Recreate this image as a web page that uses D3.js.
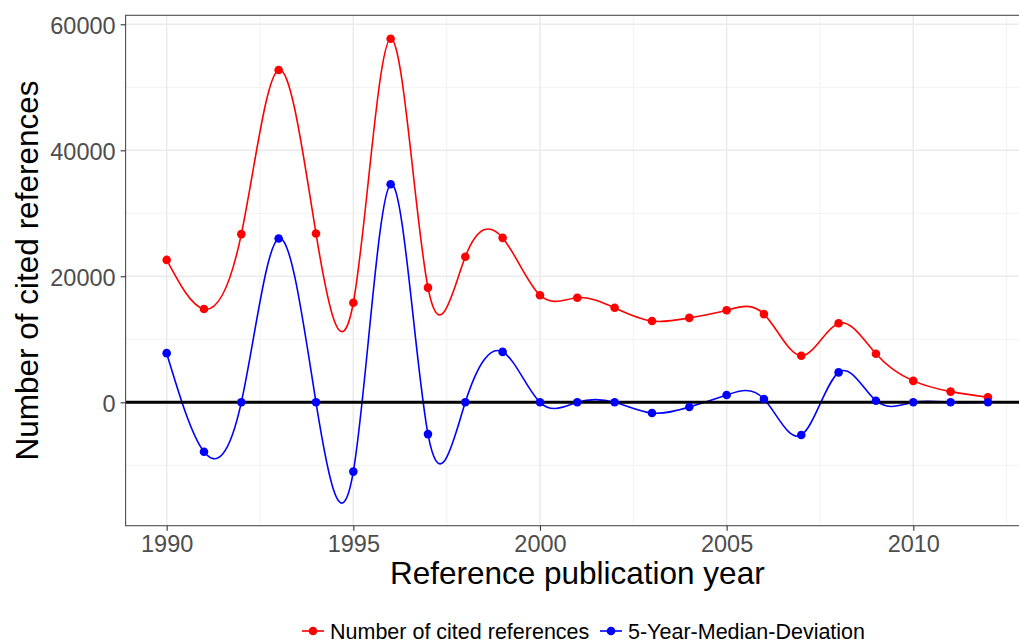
<!DOCTYPE html>
<html>
<head>
<meta charset="utf-8">
<script src="https://cdn.jsdelivr.net/npm/d3@7"></script>
<style>
  body { margin: 0; background: #fff; }
  svg { display: block; font-family: "Liberation Sans", Arial, sans-serif; }
</style>
</head>
<body>
<div id="chart"></div>
<script>
// cited references per publication year, and deviation from 5-year median
const years = d3.range(1990, 2013);
const citedRefs = [22600, 14800, 26700, 52750, 26800, 15800, 57700, 18200, 23100, 26100,
  17000, 16600, 15000, 12900, 13400, 14600, 14000, 7400, 12550, 7700, 3400, 1700, 800];
const medianDev = [7800, -7850, 0, 26000, 0, -11000, 34600, -5050, 0, 8000,
  0, 0, 0, -1700, -750, 1150, 520, -5200, 4750, 250, 0, 0, 0];
const yTicks = [0, 20000, 40000, 60000];
const yMinor = [-10000, 10000, 30000, 50000];
const xTicks = [1990, 1995, 2000, 2005, 2010];
const xMinor = [1992.5, 1997.5, 2002.5, 2007.5, 2012.5];
const seriesNames = ["Number of cited references", "5-Year-Median-Deviation"];
const seriesColors = ["#ff0000", "#0000ff"];

const W = 1019, H = 644;
const panel = { left: 125.6, right: 1029, top: 15.3, bottom: 525.7 };

const svg = d3.select("#chart").append("svg")
  .attr("width", W)
  .attr("height", H);

const x = d3.scaleLinear().domain([1988.9, 2013.1]).range([panel.left, panel.right]);
const y = d3.scaleLinear().domain([-19587, 61428]).range([panel.bottom, panel.top]);

svg.append("defs").append("clipPath").attr("id", "clip")
  .append("rect")
  .attr("x", panel.left).attr("y", panel.top)
  .attr("width", panel.right - panel.left).attr("height", panel.bottom - panel.top);

const grid = svg.append("g");

grid.selectAll("line.ymin").data(yMinor).join("line")
  .attr("x1", panel.left).attr("x2", panel.right)
  .attr("y1", (d) => y(d)).attr("y2", (d) => y(d))
  .attr("stroke", "#f2f2f2").attr("stroke-width", 1);

grid.selectAll("line.xmin").data(xMinor).join("line")
  .attr("y1", panel.top).attr("y2", panel.bottom)
  .attr("x1", (d) => x(d)).attr("x2", (d) => x(d))
  .attr("stroke", "#f2f2f2").attr("stroke-width", 1);

grid.selectAll("line.ymaj").data(yTicks).join("line")
  .attr("x1", panel.left).attr("x2", panel.right)
  .attr("y1", (d) => y(d)).attr("y2", (d) => y(d))
  .attr("stroke", "#ebebeb").attr("stroke-width", 1.5);

grid.selectAll("line.xmaj").data(xTicks).join("line")
  .attr("y1", panel.top).attr("y2", panel.bottom)
  .attr("x1", (d) => x(d)).attr("x2", (d) => x(d))
  .attr("stroke", "#ebebeb").attr("stroke-width", 1.5);

const plot = svg.append("g").attr("clip-path", "url(#clip)");

const line = d3.line()
  .x((d) => x(d[0]))
  .y((d) => y(d[1]))
  .curve(d3.curveNatural);

[citedRefs, medianDev].forEach((vals, i) => {
  const pts = years.map((yr, j) => [yr, vals[j]]);
  plot.append("path")
    .datum(pts)
    .attr("d", line)
    .attr("fill", "none")
    .attr("stroke", seriesColors[i])
    .attr("stroke-width", 1.6);
});

// zero reference line
plot.append("line")
  .attr("x1", panel.left).attr("x2", panel.right)
  .attr("y1", y(0)).attr("y2", y(0))
  .attr("stroke", "#000").attr("stroke-width", 3);

[citedRefs, medianDev].forEach((vals, i) => {
  plot.selectAll(null).data(years.map((yr, j) => [yr, vals[j]])).join("circle")
    .attr("cx", (d) => x(d[0]))
    .attr("cy", (d) => y(d[1]))
    .attr("r", 4.3)
    .attr("fill", seriesColors[i]);
});

// panel border
svg.append("rect")
  .attr("x", panel.left).attr("y", panel.top)
  .attr("width", panel.right - panel.left).attr("height", panel.bottom - panel.top)
  .attr("fill", "none").attr("stroke", "#4d4d4d").attr("stroke-width", 1.1);

// axes
const yAxis = svg.append("g")
  .attr("transform", `translate(${panel.left},0)`)
  .call(d3.axisLeft(y).tickValues(yTicks).tickSize(5).tickPadding(5).tickFormat(d3.format("d")));
const xAxis = svg.append("g")
  .attr("transform", `translate(0,${panel.bottom})`)
  .call(d3.axisBottom(x).tickValues(xTicks).tickSize(5).tickPadding(5).tickFormat(d3.format("d")));

[yAxis, xAxis].forEach((g) => {
  g.select(".domain").remove();
  g.selectAll(".tick line").attr("stroke", "#333").attr("stroke-width", 1.1);
  g.selectAll(".tick text")
    .attr("fill", "#4d4d4d")
    .style("font-size", "23.5px")
    .style("font-family", "'Liberation Sans', Arial, sans-serif");
});
yAxis.selectAll(".tick text").attr("dy", "0.41em");

svg.append("text")
  .attr("x", (panel.left + panel.right) / 2)
  .attr("y", 584)
  .attr("text-anchor", "middle")
  .style("font-size", "31.5px")
  .text("Reference publication year");

svg.append("text")
  .attr("transform", `translate(38,${(panel.top + panel.bottom) / 2}) rotate(-90)`)
  .attr("text-anchor", "middle")
  .style("font-size", "31.5px")
  .text("Number of cited references");

// legend
const legend = svg.append("g").attr("transform", "translate(0,631)");
const legendX = [302, 600];
seriesNames.forEach((name, i) => {
  const g = legend.append("g").attr("transform", `translate(${legendX[i]},0)`);
  g.append("line").attr("x1", 0).attr("x2", 22).attr("y1", 0).attr("y2", 0)
    .attr("stroke", seriesColors[i]).attr("stroke-width", 1.6);
  g.append("circle").attr("cx", 11).attr("cy", 0).attr("r", 4.3).attr("fill", seriesColors[i]);
  g.append("text").attr("x", i === 0 ? 28 : 28).attr("y", 7.8)
    .style("font-size", "21.5px")
    .text(name);
});
</script>
</body>
</html>
